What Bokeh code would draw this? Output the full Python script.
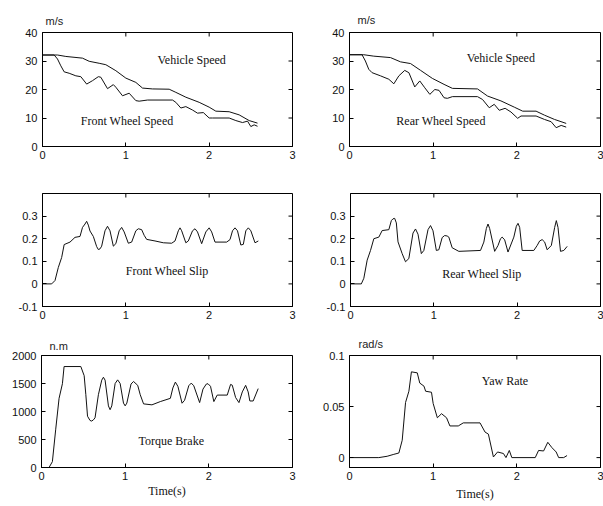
from bokeh.plotting import figure
from bokeh.layouts import column, row
from bokeh.models import Range1d, FixedTicker, Label, CustomJSTickFormatter
from bokeh.embed import file_html
from bokeh.resources import INLINE
import math

# ---------------- data ----------------
x_ticks = [0, 1, 2, 3]

t_veh1 = [0, 0.18, 0.28, 0.48, 0.56, 0.68, 0.76, 0.88, 1.0, 1.12, 1.2, 1.32, 1.52, 1.6, 1.72, 1.88, 2.0, 2.08, 2.24, 2.36, 2.48, 2.58]
v_veh1 = [32.1, 32.1, 31.6, 31.0, 29.9, 29.2, 28.7, 26.6, 24.0, 22.5, 20.5, 20.2, 20.1, 19.0, 17.3, 15.5, 13.8, 12.4, 12.2, 11.1, 9.1, 8.2]
t_front = [0, 0.14, 0.18, 0.22, 0.26, 0.32, 0.40, 0.46, 0.53, 0.60, 0.67, 0.70, 0.78, 0.85, 0.88, 0.96, 1.04, 1.12, 1.16, 1.26, 1.56, 1.60, 1.66, 1.72, 1.80, 1.86, 1.93, 2.0, 2.04, 2.24, 2.32, 2.40, 2.46, 2.50, 2.54, 2.58]
v_front = [32.1, 32.1, 30.7, 28.3, 26.2, 25.7, 24.8, 24.5, 21.9, 23.1, 24.5, 24.3, 20.3, 21.7, 20.8, 17.8, 18.7, 16.1, 15.9, 16.3, 16.3, 15.5, 13.5, 14.0, 12.8, 11.7, 11.9, 10.0, 10.0, 10.0, 9.1, 8.4, 8.9, 7.0, 7.6, 7.1]

t_veh2 = [0, 0.17, 0.29, 0.49, 0.61, 0.73, 0.85, 0.99, 1.13, 1.23, 1.53, 1.65, 1.81, 1.97, 2.07, 2.23, 2.33, 2.45, 2.59]
v_veh2 = [32.2, 32.2, 31.7, 31.2, 29.7, 29.1, 26.7, 23.9, 21.8, 20.4, 20.2, 17.7, 16.0, 13.8, 12.4, 12.4, 11.0, 9.5, 8.1]
t_rear = [0, 0.15, 0.19, 0.23, 0.27, 0.37, 0.47, 0.53, 0.59, 0.66, 0.71, 0.78, 0.84, 0.90, 0.96, 1.02, 1.07, 1.13, 1.17, 1.23, 1.53, 1.59, 1.67, 1.73, 1.79, 1.86, 1.93, 2.01, 2.05, 2.23, 2.33, 2.41, 2.47, 2.53, 2.59]
v_rear = [32.2, 32.2, 30.0, 27.1, 25.9, 24.8, 23.6, 22.0, 24.8, 26.7, 25.9, 20.9, 23.0, 20.6, 18.3, 20.0, 19.7, 17.1, 16.9, 17.5, 17.5, 16.5, 13.6, 14.8, 12.7, 13.4, 12.1, 9.9, 10.7, 10.7, 9.5, 8.7, 6.6, 7.4, 6.8]

t_fslip = [0, 0.11, 0.15, 0.19, 0.23, 0.26, 0.33, 0.39, 0.45, 0.48, 0.51, 0.53, 0.55, 0.57, 0.61, 0.65, 0.67, 0.69, 0.71, 0.75, 0.78, 0.81, 0.85, 0.88, 0.92, 0.95, 0.98, 1.03, 1.07, 1.12, 1.15, 1.19, 1.22, 1.25, 1.35, 1.45, 1.55, 1.59, 1.63, 1.65, 1.67, 1.72, 1.75, 1.80, 1.83, 1.86, 1.91, 1.96, 2.0, 2.03, 2.07, 2.21, 2.25, 2.28, 2.31, 2.34, 2.38, 2.41, 2.44, 2.47, 2.50, 2.55, 2.59]
s_front = [0, 0, 0.015, 0.073, 0.117, 0.174, 0.185, 0.206, 0.21, 0.25, 0.265, 0.277, 0.26, 0.234, 0.21, 0.165, 0.152, 0.155, 0.167, 0.235, 0.255, 0.235, 0.167, 0.178, 0.235, 0.25, 0.23, 0.18, 0.185, 0.235, 0.244, 0.24, 0.215, 0.197, 0.19, 0.182, 0.18, 0.19, 0.235, 0.248, 0.235, 0.182, 0.19, 0.235, 0.244, 0.23, 0.178, 0.23, 0.248, 0.23, 0.185, 0.185, 0.196, 0.235, 0.248, 0.235, 0.172, 0.175, 0.235, 0.248, 0.235, 0.182, 0.19]

t_rslip = [0, 0.13, 0.16, 0.20, 0.24, 0.28, 0.34, 0.38, 0.46, 0.49, 0.51, 0.53, 0.55, 0.57, 0.62, 0.66, 0.70, 0.75, 0.78, 0.81, 0.85, 0.88, 0.93, 0.96, 0.99, 1.03, 1.06, 1.10, 1.13, 1.16, 1.18, 1.22, 1.30, 1.56, 1.60, 1.63, 1.65, 1.67, 1.73, 1.77, 1.80, 1.82, 1.85, 1.89, 1.96, 1.99, 2.01, 2.03, 2.06, 2.20, 2.24, 2.27, 2.30, 2.33, 2.36, 2.41, 2.45, 2.47, 2.49, 2.52, 2.56, 2.60]
s_rear = [0, 0, 0.025, 0.105, 0.148, 0.2, 0.207, 0.236, 0.24, 0.28, 0.288, 0.29, 0.27, 0.186, 0.134, 0.098, 0.112, 0.225, 0.243, 0.22, 0.134, 0.148, 0.24, 0.258, 0.235, 0.148, 0.151, 0.205, 0.214, 0.212, 0.207, 0.16, 0.144, 0.148, 0.185, 0.245, 0.265, 0.245, 0.144, 0.17, 0.2, 0.207, 0.195, 0.141, 0.207, 0.255, 0.268, 0.25, 0.148, 0.148, 0.17, 0.19, 0.196, 0.185, 0.151, 0.17, 0.25, 0.28, 0.25, 0.144, 0.148, 0.166]

t_torque = [0, 0.09, 0.13, 0.17, 0.21, 0.25, 0.27, 0.47, 0.51, 0.53, 0.55, 0.58, 0.60, 0.62, 0.64, 0.68, 0.72, 0.74, 0.76, 0.80, 0.82, 0.84, 0.88, 0.91, 0.94, 0.98, 1.0, 1.02, 1.07, 1.10, 1.15, 1.18, 1.22, 1.32, 1.42, 1.54, 1.57, 1.60, 1.63, 1.68, 1.71, 1.76, 1.79, 1.82, 1.89, 1.93, 1.97, 1.99, 2.02, 2.06, 2.10, 2.22, 2.26, 2.28, 2.32, 2.36, 2.40, 2.44, 2.47, 2.49, 2.53, 2.59]
torque = [0, 0, 104, 684, 1235, 1496, 1803, 1803, 1640, 1300, 916, 840, 829, 850, 887, 1300, 1560, 1612, 1560, 1100, 1032, 1100, 1500, 1565, 1500, 1150, 1101, 1150, 1490, 1536, 1467, 1300, 1136, 1119, 1177, 1235, 1420, 1525, 1450, 1148, 1200, 1460, 1507, 1460, 1159, 1400, 1490, 1496, 1450, 1177, 1293, 1293, 1484, 1470, 1250, 1159, 1350, 1467, 1350, 1188, 1188, 1409]

t_yaw = [0, 0.35, 0.45, 0.53, 0.59, 0.63, 0.67, 0.71, 0.74, 0.81, 0.84, 0.89, 0.91, 0.98, 1.0, 1.05, 1.10, 1.16, 1.20, 1.30, 1.36, 1.56, 1.62, 1.66, 1.72, 1.77, 1.84, 1.87, 1.91, 1.94, 2.22, 2.26, 2.32, 2.37, 2.42, 2.47, 2.50, 2.56, 2.60]
yaw = [0, 0, 0.0013, 0.0032, 0.0045, 0.017, 0.054, 0.065, 0.084, 0.083, 0.073, 0.07, 0.065, 0.064, 0.053, 0.039, 0.043, 0.039, 0.031, 0.031, 0.034, 0.034, 0.025, 0.023, 0.0006, 0.0055, 0.004, 0, 0.007, 0, 0, 0.007, 0.0065, 0.015, 0.0097, 0.0055, 0, 0, 0.002]

speed_ticks = [0, 10, 20, 30, 40]
slip_ticks = [-0.1, 0, 0.1, 0.2, 0.3]
torque_ticks = [0, 500, 1000, 1500, 2000]
yaw_ticks = [0, 0.05, 0.1]

SANS = "Liberation Sans"
SERIF = "Liberation Serif"
fmt_code = "return String(Number(tick.toFixed(6)));"


def panel(width, height, bl, br, bt, bb, yr, yticks, unit, unit_offset, unit_standoff,
          xlabel=None, xlabel_standoff=1):
    p = figure(width=width, height=height, x_range=Range1d(0, 3), y_range=Range1d(*yr),
               output_backend="svg", toolbar_location=None,
               min_border_left=bl, min_border_right=br, min_border_top=bt, min_border_bottom=bb)
    p.xgrid.visible = False
    p.ygrid.visible = False
    p.outline_line_color = "black"
    p.outline_line_width = 1
    p.background_fill_color = "white"
    p.border_fill_color = "white"
    if unit:
        p.title.text = unit
        p.title.align = "left"
        p.title.offset = unit_offset
        p.title.standoff = unit_standoff
        p.title.text_font = SANS
        p.title.text_font_size = "11px"
        p.title.text_font_style = "normal"
        p.title.text_color = "#222222"
    for ax, tk in ((p.xaxis[0], x_ticks), (p.yaxis[0], yticks)):
        ax.ticker = FixedTicker(ticks=tk)
        ax.formatter = CustomJSTickFormatter(code=fmt_code)
        ax.major_tick_in = 4
        ax.major_tick_out = 0
        ax.minor_tick_line_color = None
        ax.axis_line_color = "black"
        ax.major_tick_line_color = "black"
        ax.major_label_text_font = SANS
        ax.major_label_text_font_size = "11px"
        ax.major_label_text_color = "#111111"
    p.xaxis[0].major_label_standoff = 4
    p.yaxis[0].major_label_standoff = 5
    if xlabel:
        p.xaxis[0].axis_label = xlabel
        p.xaxis[0].axis_label_text_font = SERIF
        p.xaxis[0].axis_label_text_font_size = "12px"
        p.xaxis[0].axis_label_text_font_style = "normal"
        p.xaxis[0].axis_label_text_color = "#111111"
        p.xaxis[0].axis_label_standoff = xlabel_standoff
    # inner ticks on the right and top edges of the box (MATLAB style)
    p.ray(x=x_ticks, y=[yr[1]] * len(x_ticks), length=4, length_units="screen",
          angle=-math.pi / 2, line_color="black", line_width=1)
    p.ray(x=[3] * len(yticks), y=yticks, length=4, length_units="screen",
          angle=math.pi, line_color="black", line_width=1)
    return p


def note(p, x, y, txt, align="left"):
    p.add_layout(Label(x=x, y=y, text=txt, text_font=SERIF, text_font_size="12px",
                       text_baseline="middle", text_align=align, text_color="#111111"))


LW = 1
C = "#111111"

p1 = panel(300, 170, 42, 8, 32, 24, (0, 40), speed_ticks, "m/s", 3, 11)
p1.line(t_veh1, v_veh1, line_color=C, line_width=LW)
p1.line(t_front, v_front, line_color=C, line_width=LW)
note(p1, 1.38, 30.2, "Vehicle Speed")
note(p1, 0.46, 9.1, "Front Wheel Speed")

p2 = panel(303, 170, 49, 3, 32, 24, (0, 40), speed_ticks, "m/s", 8, 13)
p2.line(t_veh2, v_veh2, line_color=C, line_width=LW)
p2.line(t_rear, v_rear, line_color=C, line_width=LW)
note(p2, 1.40, 31.2, "Vehicle Speed")
note(p2, 0.56, 8.8, "Rear Wheel Speed")

p3 = panel(300, 160, 42, 8, 22, 24, (-0.1, 0.4), slip_ticks, "", 0, 5)
p3.line(t_fslip, s_front, line_color=C, line_width=LW)
note(p3, 1.0, 0.058, "Front Wheel Slip")

p4 = panel(303, 160, 50, 3, 23, 23, (-0.1, 0.4), slip_ticks, "", 0, 5)
p4.line(t_rslip, s_rear, line_color=C, line_width=LW)
note(p4, 1.10, 0.045, "Rear Wheel Slip")

p5 = panel(300, 176, 41, 8, 24, 37, (0, 2000), torque_ticks, "n.m", 8, 7,
           xlabel="Time(s)", xlabel_standoff=1)
p5.line(t_torque, torque, line_color=C, line_width=LW)
note(p5, 1.16, 470, "Torque Brake")

p6 = panel(303, 176, 49, 3, 24, 39, (-0.0097, 0.1), yaw_ticks, "rad/s", 9, 11,
           xlabel="Time(s)", xlabel_standoff=4)
p6.line(t_yaw, yaw, line_color=C, line_width=LW)
note(p6, 1.58, 0.0747, "Yaw Rate")

layout = column(row(p1, p2), row(p3, p4), row(p5, p6))

open("out.html", "w").write(file_html(layout, INLINE))
